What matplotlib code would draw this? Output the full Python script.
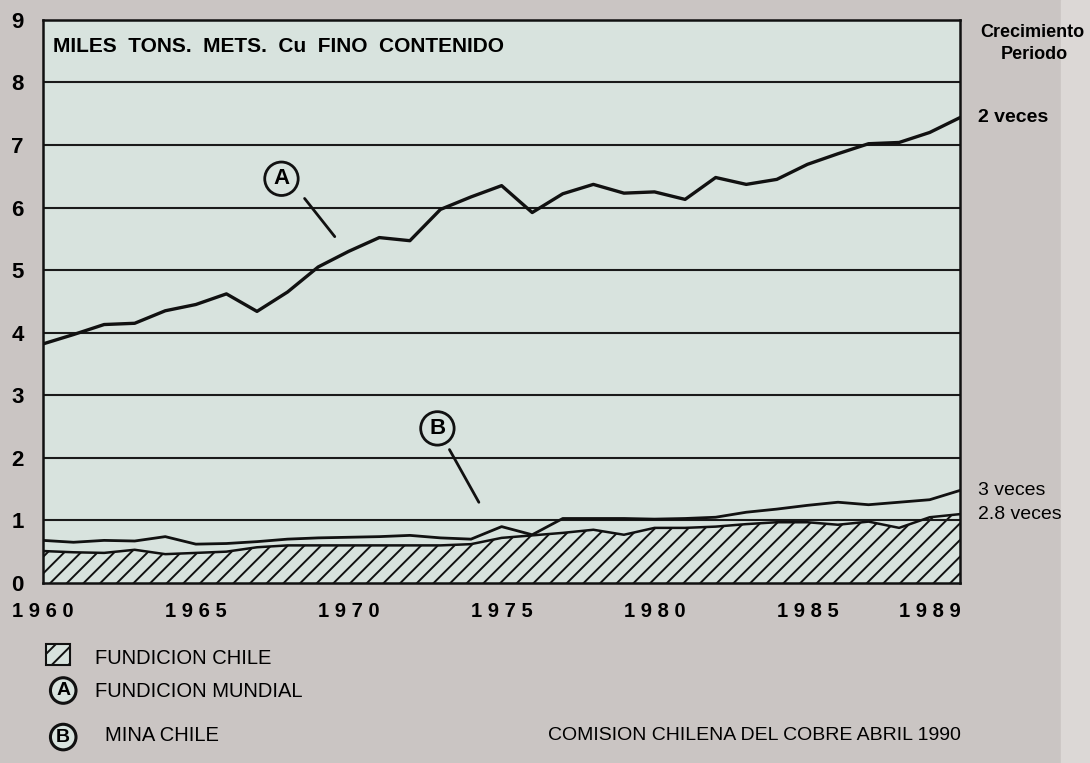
import numpy as np
import matplotlib.pyplot as plt
from matplotlib.patches import Rectangle

plt.rcParams['font.family'] = ['Liberation Sans', 'DejaVu Sans']
plt.rcParams['hatch.linewidth'] = 1.4

# data (thousand metric tons of fine copper)
years = np.arange(1960, 1991)
fundicion_mundial = [3.82, 3.97, 4.13, 4.15, 4.35, 4.45, 4.62, 4.34, 4.65, 5.05,
                     5.30, 5.52, 5.47, 5.97, 6.17, 6.35, 5.92, 6.22, 6.37, 6.23,
                     6.25, 6.13, 6.48, 6.37, 6.45, 6.69, 6.86, 7.02, 7.04, 7.20, 7.44]
mina_chile = [0.68, 0.65, 0.68, 0.67, 0.74, 0.62, 0.63, 0.66, 0.70, 0.72,
              0.73, 0.74, 0.76, 0.72, 0.70, 0.90, 0.77, 1.03, 1.03, 1.03,
              1.02, 1.03, 1.05, 1.13, 1.18, 1.24, 1.29, 1.25, 1.29, 1.33, 1.48]
fundicion_chile = [0.51, 0.49, 0.48, 0.53, 0.46, 0.48, 0.50, 0.57, 0.60, 0.60,
                   0.60, 0.60, 0.60, 0.60, 0.62, 0.72, 0.76, 0.80, 0.85, 0.77,
                   0.88, 0.88, 0.90, 0.94, 0.97, 0.97, 0.93, 0.98, 0.88, 1.05, 1.10]

tick_years = [1960, 1965, 1970, 1975, 1980, 1985, 1989]
y_ticks = list(range(10))
growth = ['2 veces', '3 veces', '2.8 veces']

fig_bg = '#cac5c3'
ax_bg = '#d8e3de'
ink = '#111111'

fig = plt.figure(figsize=(10.9, 7.63), dpi=100)
fig.patch.set_facecolor(fig_bg)
fig.add_artist(Rectangle((0.973, 0), 0.027, 1, transform=fig.transFigure,
                         color='#dcd8d6', zorder=0))
ax = fig.add_axes([0.0394, 0.236, 0.8416, 0.738])
ax.set_facecolor(ax_bg)

ax.set_xlim(1960, 1990)
ax.set_ylim(0, 9)
for v in y_ticks[1:-1]:
    ax.axhline(v, color='#1a1a1a', lw=1.5, zorder=2)

ax.fill_between(years, 0, fundicion_chile, facecolor=ax_bg, edgecolor=ink,
                hatch='//', lw=0, zorder=1)
ax.plot(years, fundicion_chile, color=ink, lw=1.8, zorder=3)
ax.plot(years, mina_chile, color=ink, lw=2.0, zorder=3)
ax.plot(years, fundicion_mundial, color=ink, lw=2.4, zorder=3)

for s in ax.spines.values():
    s.set_linewidth(1.8)
    s.set_color(ink)

ax.set_yticks(y_ticks)
ax.set_yticklabels([str(v) for v in y_ticks], fontsize=16, fontweight='bold')
ax.set_xticks(tick_years)
ax.set_xticklabels([' '.join(str(y)) for y in tick_years],
                   fontsize=14.5, fontweight='bold')
ax.tick_params(length=0)
ax.tick_params(axis='y', pad=14)
ax.tick_params(axis='x', pad=14)

ax.text(0.011, 0.969, 'MILES  TONS.  METS.  Cu  FINO  CONTENIDO', transform=ax.transAxes,
        fontsize=15, fontweight='bold', va='top', ha='left')

circ = dict(boxstyle='circle,pad=0.28', fc=ax_bg, ec=ink, lw=2)
ax.annotate('', xy=(1969.6, 5.5), xytext=(1968.5, 6.18),
            arrowprops=dict(arrowstyle='-', lw=2, color=ink))
ax.text(1967.8, 6.46, 'A', fontsize=16, fontweight='bold', ha='center', va='center', bbox=circ)
ax.annotate('', xy=(1974.3, 1.25), xytext=(1973.25, 2.17),
            arrowprops=dict(arrowstyle='-', lw=2, color=ink))
ax.text(1972.9, 2.47, 'B', fontsize=16, fontweight='bold', ha='center', va='center', bbox=circ)

# growth labels on the right
fig.text(0.947, 0.958, 'Crecimiento', fontsize=13, fontweight='bold', ha='center', va='center')
fig.text(0.949, 0.928, 'Periodo', fontsize=13, fontweight='bold', ha='center', va='center')
ends = [fundicion_mundial[-1], mina_chile[-1], fundicion_chile[-1]]
weights = ['bold', 'normal', 'normal']
for lab, yv, w in zip(growth, ends, weights):
    ax.annotate(lab, xy=(1990, yv), xytext=(13, 0), textcoords='offset points',
                fontsize=14, fontweight=w, ha='left', va='center',
                annotation_clip=False)

# legend
fig.add_artist(Rectangle((0.042, 0.128), 0.022, 0.028, transform=fig.transFigure,
                         facecolor=ax_bg, edgecolor=ink, hatch='//', lw=1.5))
fig.text(0.087, 0.137, 'FUNDICION CHILE', fontsize=14.5, va='center')
lcirc = dict(boxstyle='circle,pad=0.22', fc=ax_bg, ec=ink, lw=2.2)
fig.text(0.058, 0.095, 'A', fontsize=14, fontweight='bold', ha='center', va='center', bbox=lcirc)
fig.text(0.087, 0.094, 'FUNDICION MUNDIAL', fontsize=14.5, va='center')
fig.text(0.058, 0.034, 'B', fontsize=14, fontweight='bold', ha='center', va='center', bbox=lcirc)
fig.text(0.096, 0.036, 'MINA CHILE', fontsize=14.5, va='center')
fig.text(0.503, 0.036, 'COMISION CHILENA DEL COBRE ABRIL 1990', fontsize=14, va='center')

fig.savefig('out.png', dpi=100, facecolor=fig.get_facecolor())
